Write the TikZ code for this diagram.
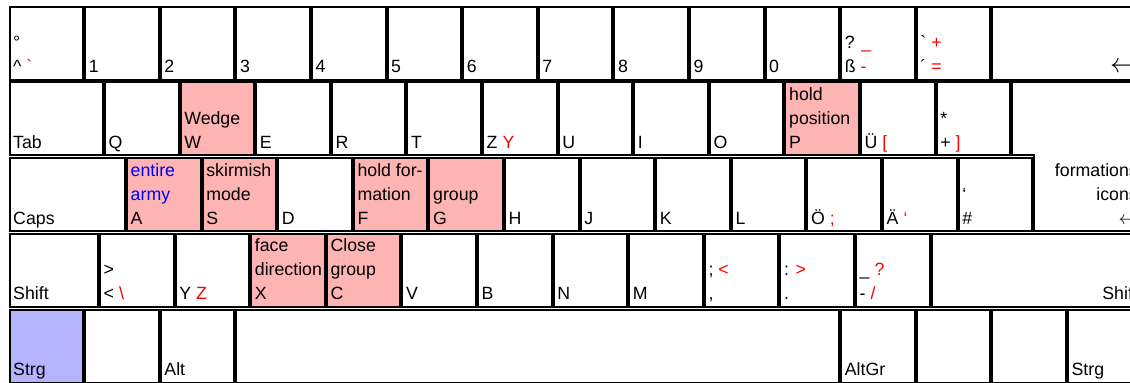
\documentclass[tikz,border=0pt]{standalone}
\usepackage{fontspec}
\setmainfont{Liberation Sans}
\usetikzlibrary{positioning}
\definecolor{keypink}{RGB}{255,180,180}
\definecolor{keyblue}{RGB}{180,180,255}

\begin{document}
\begin{tikzpicture}[
  x=0.75pt, y=-0.75pt,
  font=\fontsize{13.3}{18}\selectfont,
  key/.style={draw, line width=1.5pt, fill=white, anchor=north west, inner sep=0pt, outer sep=0pt, minimum width=55.2pt, minimum height=54.75pt},
  hot/.style={key, fill=keypink},
  keyw/.style={minimum width=#1*0.75pt},
  lbl/.style={anchor=south west, inner sep=0pt, align=left, xshift=2.6pt, yshift=-0.5pt, execute at end node=\strut},
  rlbl/.style={anchor=south east, inner sep=0pt, align=right, xshift=-2.6pt, yshift=-0.5pt, execute at end node=\strut}
]
  \useasboundingbox (0,0) rectangle (1130,382);
  \clip (0,0) rectangle (1130,382);

  % number row
  \node[key] (kCirc) at (9.5,6.5) {};
  \node[lbl] (tCirc) at (kCirc.south west) {°\\\textasciicircum\ \textcolor{red}{\textasciigrave}};
  \node[key] (k1) at (85.1,6.5) {};
  \node[lbl] (t1) at (k1.south west) {1};
  \node[key] (k2) at (160.7,6.5) {};
  \node[lbl] (t2) at (k2.south west) {2};
  \node[key] (k3) at (236.3,6.5) {};
  \node[lbl] (t3) at (k3.south west) {3};
  \node[key] (k4) at (311.9,6.5) {};
  \node[lbl] (t4) at (k4.south west) {4};
  \node[key] (k5) at (387.5,6.5) {};
  \node[lbl] (t5) at (k5.south west) {5};
  \node[key] (k6) at (463.1,6.5) {};
  \node[lbl] (t6) at (k6.south west) {6};
  \node[key] (k7) at (538.7,6.5) {};
  \node[lbl] (t7) at (k7.south west) {7};
  \node[key] (k8) at (614.3,6.5) {};
  \node[lbl] (t8) at (k8.south west) {8};
  \node[key] (k9) at (689.9,6.5) {};
  \node[lbl] (t9) at (k9.south west) {9};
  \node[key] (k0) at (765.5,6.5) {};
  \node[lbl] (t0) at (k0.south west) {0};
  \node[key] (kSz) at (841.1,6.5) {};
  \node[lbl] (tSz) at (kSz.south west) {? \textcolor{red}{\_}\\ß \textcolor{red}{-}};
  \node[key] (kAcute) at (916.7,6.5) {};
  \node[lbl] (tAcute) at (kAcute.south west) {\textasciigrave\ \textcolor{red}{+}\\´ \textcolor{red}{=}};
  \node[key, keyw=149.2] (kBack) at (992.3,6.5) {};
  \node[rlbl, font=\fontsize{20}{18}\selectfont] (tBack) at (kBack.south east) {$\leftarrow$};

  % upper letter row
  \node[key, keyw=93.5] (kTab) at (9.5,82.25) {};
  \node[lbl] (tTab) at (kTab.south west) {Tab};
  \node[key] (kQ) at (105,82.25) {};
  \node[lbl] (tQ) at (kQ.south west) {Q};
  \node[hot] (kW) at (180.6,82.25) {};
  \node[lbl] (tW) at (kW.south west) {Wedge\\W};
  \node[key] (kE) at (256.2,82.25) {};
  \node[lbl] (tE) at (kE.south west) {E};
  \node[key] (kR) at (331.8,82.25) {};
  \node[lbl] (tR) at (kR.south west) {R};
  \node[key] (kT) at (407.4,82.25) {};
  \node[lbl] (tT) at (kT.south west) {T};
  \node[key] (kZ) at (483,82.25) {};
  \node[lbl] (tZ) at (kZ.south west) {Z \textcolor{red}{Y}};
  \node[key] (kU) at (558.6,82.25) {};
  \node[lbl] (tU) at (kU.south west) {U};
  \node[key] (kI) at (634.2,82.25) {};
  \node[lbl] (tI) at (kI.south west) {I};
  \node[key] (kO) at (709.8,82.25) {};
  \node[lbl] (tO) at (kO.south west) {O};
  \node[hot] (kP) at (785.4,82.25) {};
  \node[lbl] (tP) at (kP.south west) {hold\\position\\P};
  \node[key] (kUe) at (861,82.25) {};
  \node[lbl] (tUe) at (kUe.south west) {Ü \textcolor{red}{[}};
  \node[key] (kPlus) at (936.6,82.25) {};
  \node[lbl] (tPlus) at (kPlus.south west) {*\\+ \textcolor{red}{]}};

  % enter key
  \coordinate (enterSE) at (1141.5,231);
  \draw[line width=1.5pt, fill=white] (1012.2,82.25) -- (1141.5,82.25) -- (enterSE)
    -- (1034.2,231) -- (1034.2,155.25) -- (1012.2,155.25) -- cycle;
  \node[rlbl] (tEnter) at (enterSE) {formations\\icons\\{\fontsize{14}{18}\selectfont$\leftarrow$}};

  % home row
  \node[key, keyw=115.5] (kCaps) at (9.5,158) {};
  \node[lbl] (tCaps) at (kCaps.south west) {Caps};
  \node[hot] (kA) at (127,158) {};
  \node[lbl] (tA) at (kA.south west) {\textcolor{blue}{entire}\\\textcolor{blue}{army}\\A};
  \node[hot] (kS) at (202.6,158) {};
  \node[lbl] (tS) at (kS.south west) {skirmish\\mode\\S};
  \node[key] (kD) at (278.2,158) {};
  \node[lbl] (tD) at (kD.south west) {D};
  \node[hot] (kF) at (353.8,158) {};
  \node[lbl] (tF) at (kF.south west) {hold for-\\mation\\F};
  \node[hot] (kG) at (429.4,158) {};
  \node[lbl] (tG) at (kG.south west) {group\\G};
  \node[key] (kH) at (505,158) {};
  \node[lbl] (tH) at (kH.south west) {H};
  \node[key] (kJ) at (580.6,158) {};
  \node[lbl] (tJ) at (kJ.south west) {J};
  \node[key] (kK) at (656.2,158) {};
  \node[lbl] (tK) at (kK.south west) {K};
  \node[key] (kL) at (731.8,158) {};
  \node[lbl] (tL) at (kL.south west) {L};
  \node[key] (kOe) at (807.4,158) {};
  \node[lbl] (tOe) at (kOe.south west) {Ö \textcolor{red}{;}};
  \node[key] (kAe) at (883,158) {};
  \node[lbl] (tAe) at (kAe.south west) {Ä \textcolor{red}{‘}};
  \node[key] (kHash) at (958.6,158) {};
  \node[lbl] (tHash) at (kHash.south west) {‘\\\#};

  % lower letter row
  \node[key, keyw=88.5] (kShift) at (9.5,233.75) {};
  \node[lbl] (tShift) at (kShift.south west) {Shift};
  \node[key] (kLess) at (100,233.75) {};
  \node[lbl] (tLess) at (kLess.south west) {>\\< \textcolor{red}{\textbackslash}};
  \node[key] (kY) at (175.6,233.75) {};
  \node[lbl] (tY) at (kY.south west) {Y \textcolor{red}{Z}};
  \node[hot] (kX) at (251.2,233.75) {};
  \node[lbl] (tX) at (kX.south west) {face\\direction\\X};
  \node[hot] (kC) at (326.8,233.75) {};
  \node[lbl] (tC) at (kC.south west) {Close\\group\\C};
  \node[key] (kV) at (402.4,233.75) {};
  \node[lbl] (tV) at (kV.south west) {V};
  \node[key] (kB) at (478,233.75) {};
  \node[lbl] (tB) at (kB.south west) {B};
  \node[key] (kN) at (553.6,233.75) {};
  \node[lbl] (tN) at (kN.south west) {N};
  \node[key] (kM) at (629.2,233.75) {};
  \node[lbl] (tM) at (kM.south west) {M};
  \node[key] (kComma) at (704.8,233.75) {};
  \node[lbl] (tComma) at (kComma.south west) {; \textcolor{red}{<}\\,};
  \node[key] (kDot) at (780.4,233.75) {};
  \node[lbl] (tDot) at (kDot.south west) {: \textcolor{red}{>}\\.};
  \node[key] (kMinus) at (856,233.75) {};
  \node[lbl] (tMinus) at (kMinus.south west) {\_ \textcolor{red}{?}\\- \textcolor{red}{/}};
  \node[key, keyw=210] (kRShift) at (931.6,233.75) {};
  \node[rlbl] (tRShift) at (kRShift.south east) {Shift};

  % bottom row
  \node[key, fill=keyblue] (kLStrg) at (9.5,309.5) {};
  \node[lbl] (tLStrg) at (kLStrg.south west) {Strg};
  \node[key] (kLWin) at (85.1,309.5) {};
  \node[key] (kAlt) at (160.7,309.5) {};
  \node[lbl] (tAlt) at (kAlt.south west) {Alt};
  \node[key, keyw=602.8] (kSpace) at (236.3,309.5) {};
  \node[key] (kAltGr) at (841.1,309.5) {};
  \node[lbl] (tAltGr) at (kAltGr.south west) {AltGr};
  \node[key] (kRWin) at (916.7,309.5) {};
  \node[key] (kMenu) at (992.3,309.5) {};
  \node[key] (kRStrg) at (1067.9,309.5) {};
  \node[lbl] (tRStrg) at (kRStrg.south west) {Strg};
\end{tikzpicture}
\end{document}
